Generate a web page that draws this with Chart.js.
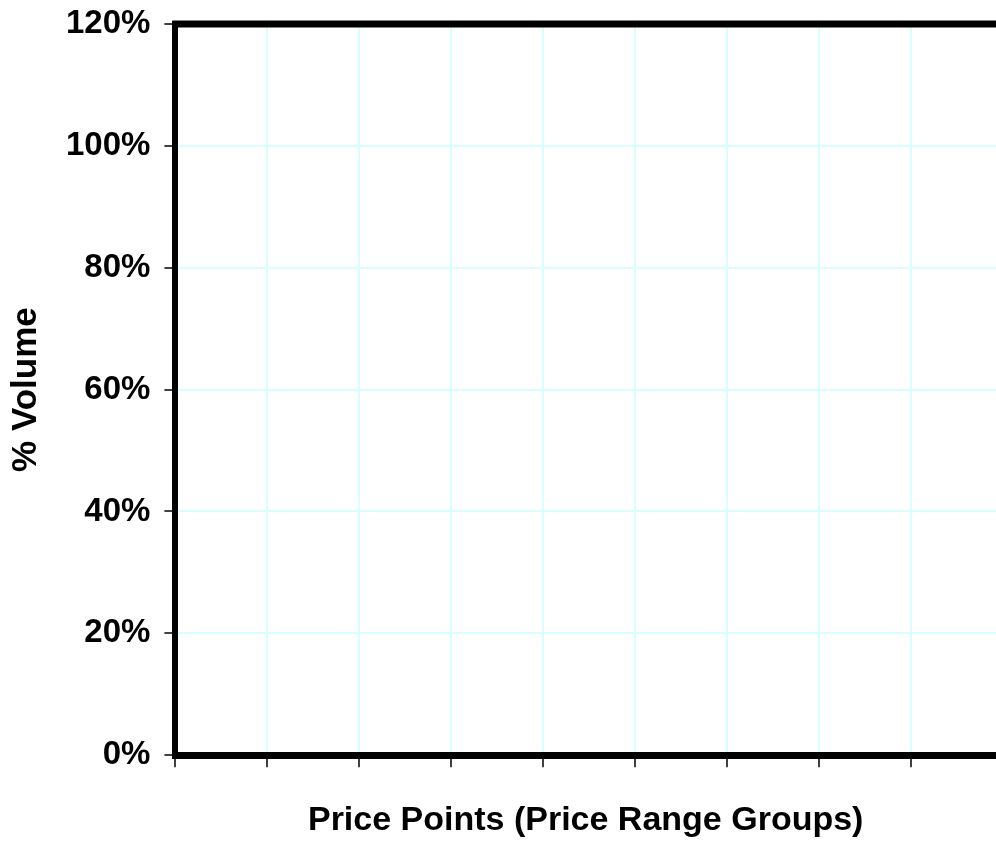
<!DOCTYPE html>
<html>
<head>
<meta charset="utf-8">
<title>% Volume by Price Points</title>
<script src="https://cdn.jsdelivr.net/npm/chart.js@4"></script>
<style>
  html, body { margin: 0; padding: 0; background: #fff; }
  #wrap { width: 996px; height: 841px; overflow: hidden; }
</style>
</head>
<body>
<div id="wrap"><canvas id="volume-chart" width="996" height="841"></canvas></div>
<script>
// Datos del gráfico (el original no muestra ninguna barra)
const priceGroups = ['', '', '', '', '', '', '', '', ''];
const volumeShare = [];
const yTickValues = [0, 20, 40, 60, 80, 100, 120];

const FONT = "'Liberation Sans', Arial, Helvetica, sans-serif";
const GRID = '#d8ffff';

// Línea superior gruesa del marco
const topFrame = {
  id: 'topFrame',
  afterDraw(chart) {
    const { ctx, chartArea } = chart;
    ctx.save();
    ctx.strokeStyle = '#000';
    ctx.lineWidth = 7;
    ctx.beginPath();
    ctx.moveTo(chartArea.left - 3, chartArea.top);
    ctx.lineTo(chart.width, chartArea.top);
    ctx.stroke();
    ctx.restore();
  }
};

const ctx = document.getElementById('volume-chart').getContext('2d');

new Chart(ctx, {
  type: 'line',
  data: {
    labels: priceGroups,
    datasets: [{
      label: '% Volume',
      data: volumeShare,
      borderColor: '#000080'
    }]
  },
  plugins: [topFrame],
  options: {
    responsive: false,
    animation: false,
    layout: { padding: { top: 0, right: 0, bottom: 0, left: 0 } },
    scales: {
      x: {
        type: 'linear',
        display: true,
        offset: false,
        min: 0,
        max: priceGroups.length - 0.08,
        afterBuildTicks: axis => {
          axis.ticks = priceGroups.map((g, i) => ({ value: i }));
        },
        ticks: { display: false },
        grid: {
          offset: false,
          color: GRID,
          lineWidth: 2,
          tickColor: '#000',
          tickWidth: 1.5,
          tickLength: 12
        },
        border: { display: true, color: '#000', width: 7 },
        title: {
          display: true,
          text: 'Price Points (Price Range Groups)',
          color: '#000',
          font: { family: FONT, size: 34, weight: 'bold' },
          padding: { top: 33, bottom: 0 }
        }
      },
      y: {
        display: true,
        min: 0,
        max: 120,
        afterBuildTicks: axis => { axis.ticks = yTickValues.map(v => ({ value: v })); },
        ticks: {
          color: '#000',
          padding: 14,
          font: { family: FONT, size: 33, weight: 'bold', lineHeight: 0.6 },
          callback: v => v + '%'
        },
        grid: {
          color: GRID,
          lineWidth: 2,
          tickColor: '#000',
          tickWidth: 1.5,
          tickLength: 11
        },
        border: { display: true, color: '#000', width: 6 },
        title: {
          display: true,
          text: '% Volume',
          color: '#000',
          font: { family: FONT, size: 35, weight: 'bold' },
          padding: { top: 5, bottom: 5 }
        }
      }
    },
    plugins: {
      legend: { display: false },
      tooltip: { enabled: false }
    }
  }
});
</script>
</body>
</html>
